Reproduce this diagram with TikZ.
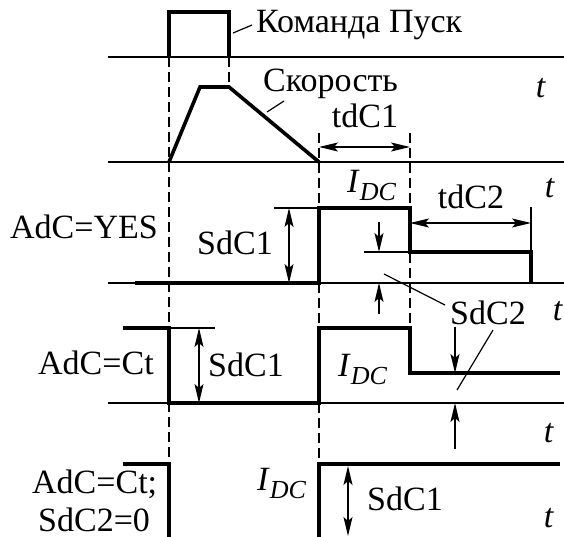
\documentclass[tikz,border=0pt]{standalone}
\usepackage{fontspec}
\setmainfont{Liberation Serif}
\newfontfamily\tnr{Liberation Serif}
\usetikzlibrary{arrows.meta, positioning}
\tikzset{
    axis/.style = {line width=1.2pt}, % thin time axis of every row
    sig/.style = {line width=3.6pt, line join=miter}, % the signal itself
    guide/.style = {line width=1.3pt, dash pattern=on 10pt off 5pt},
    aux/.style = {line width=1.2pt}, % extension and leader lines
    tipA/.tip = {Stealth[length=19pt, width=9pt, inset=4pt]},
    dim/.style = {aux, tipA-tipA},
    ptr/.style = {aux, -tipA},
    lbl/.style = {inner sep=0pt, font=\tnr\fontsize{34}{38}\selectfont}
}
\newcommand{\Idc}{\textit{I}\raisebox{-8pt}{\fontsize{26}{26}\selectfont\textit{DC}}}

\begin{document}
\begin{tikzpicture}[x=1pt, y=-1pt]
\useasboundingbox (0,0) rectangle (564,537);
% time axes
\foreach \yy in {57, 162, 283, 403}
    \draw[axis] (108,\yy) -- (564,\yy);
% dashed guides
\draw[guide] (169,57) -- (169,464);
\draw[guide] (229,57) -- (229,87);
\draw[guide] (319,133) -- (319,464);
\draw[guide] (410,133) -- (410,328);
% start command and speed
\draw[sig] (169,57) -- (169,12) -- (229,12) -- (229,57);
\draw[sig] (169,162) -- (200,87) -- (229,87) -- (319,162);
% AdC=YES
\draw[sig] (135,283) -- (319,283) -- (319,208) -- (410,208) -- (410,252) -- (531,252) -- (531,283);
% AdC=Ct
\draw[sig] (123,328) -- (169,328) -- (169,403) -- (319,403) -- (319,328) -- (410,328) -- (410,373) -- (560,373);
% AdC=Ct; SdC2=0
\draw[sig] (123,464) -- (169,464) -- (169,537);
\draw[sig] (319,537) -- (319,464) -- (560,464);
% extension lines
\draw[aux] (274,208) -- (319,208);
\draw[aux] (531,207) -- (531,252);
\draw[aux] (364,252) -- (410,252);
\draw[aux] (169,328) -- (215,328);
% labels
\node[lbl, anchor=base west] (cmd) at (256,33) {Команда Пуск};
\node[lbl, anchor=base west] (spd) at (263,92) {Скорость};
\node[lbl, anchor=base] (td1) at (365,128) {tdC1};
\node[lbl, anchor=base] (td2) at (471,208) {tdC2};
\node[lbl, anchor=base west] (yes) at (10,238) {AdC=YES};
\node[lbl, anchor=base west] (ct) at (38,374) {AdC=Ct};
\node[lbl, anchor=base west] (ct0) at (32,493) {AdC=Ct;};
\node[lbl, anchor=base west] (sd0) at (38,531) {SdC2=0};
\node[lbl, anchor=base west] (s1a) at (197,254) {SdC1};
\node[lbl, anchor=base west] (s1b) at (208,376) {SdC1};
\node[lbl, anchor=base west] (s1c) at (367,510) {SdC1};
\node[lbl, anchor=base west] (s2) at (450,324) {SdC2};
\node[lbl, anchor=base west] (ida) at (347,193) {\Idc};
\node[lbl, anchor=base west] (idb) at (338,376) {\Idc};
\node[lbl, anchor=base west] (idc) at (257,490) {\Idc};
\node[lbl, anchor=base] (t1) at (541,98) {\textit{t}};
\node[lbl, anchor=base] (t2) at (550,197) {\textit{t}};
\node[lbl, anchor=base] (t3) at (558,320) {\textit{t}};
\node[lbl, anchor=base] (t4) at (549,442) {\textit{t}};
\node[lbl, anchor=base] (t5) at (549,527) {\textit{t}};
% leaders
\draw[aux] (233,33) -- (252,25);
\draw[aux] (267,112) -- (284,101);
\draw[aux] (384,274) -- (445,305);
\draw[aux] (493,330) -- (457,390);
% dimension arrows
\draw[dim] (319,147) -- (410,147);
\draw[dim] (410,223) -- (531,223);
\draw[dim] (289,208) -- (289,283);
\draw[dim] (199,328) -- (199,403);
\draw[dim] (348,466) -- (348,536);
\draw[ptr] (379,222) -- (379,252);
\draw[ptr] (379,314) -- (379,283);
\draw[ptr] (455,327) -- (455,373);
\draw[ptr] (455,449) -- (455,403);
\end{tikzpicture}
\end{document}
